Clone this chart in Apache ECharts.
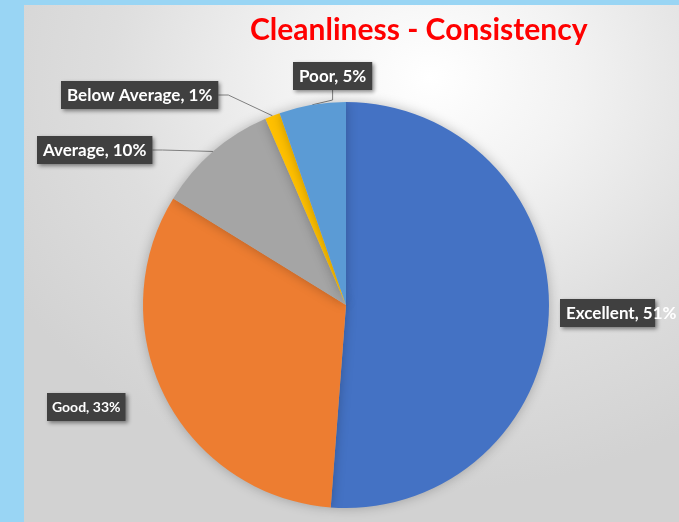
<!DOCTYPE html>
<html>
<head>
<meta charset="utf-8">
<script src="https://cdn.jsdelivr.net/npm/echarts@6/dist/echarts.min.js"></script>
<style>
  html, body { margin: 0; padding: 0; background: #99d5f4; width: 679px; height: 522px; overflow: hidden; }
  #main {
    position: absolute; left: 24px; top: 5px; width: 655px; height: 517px;
    background: radial-gradient(ellipse 75% 80% at 62% 14%, #ffffff 0%, #f2f2f2 30%, #dedede 65%, #d2d2d2 100%);
  }
</style>
</head>
<body>
<div id="main"></div>
<script>
(function() {
  'use strict';

  var categories = ['Excellent', 'Good', 'Average', 'Below Average', 'Poor'];
  var values = [51.2, 32.6, 9.7, 1.2, 5.3];
  var colors = ['#4472c4', '#ed7d31', '#a5a5a5', '#ffc000', '#5b9bd5'];

  // label box top-left corners (chart px)
  var labelPos = [[536, 294], [23, 388], [13, 131], [37, 76], [269, 57]];
  var showLine = [false, false, true, true, true];

  var data = categories.map(function(name, i) {
    var d = {
      name: name,
      value: values[i],
      itemStyle: { color: colors[i] },
      labelLine: { show: showLine[i] }
    };
    if (name === 'Good') {
      // this one is squeezed in the original
      d.label = { fontSize: 14, padding: [6, 5, 5, 5] };
    }
    return d;
  });

  var chart = echarts.init(document.getElementById('main'), null, { renderer: 'canvas' });

  var option = {
    backgroundColor: 'transparent',
    title: {
      text: 'Cleanliness - Consistency',
      left: 221,
      top: 5,
      textStyle: {
        color: '#ff0000',
        fontFamily: 'Lato',
        fontWeight: 'bold',
        fontSize: 30
      }
    },
    series: [{
      type: 'pie',
      center: [322, 300],
      radius: 203,
      startAngle: 90,
      clockwise: true,
      animation: false,
      data: data,
      itemStyle: {
        shadowBlur: 12,
        shadowColor: 'rgba(0,0,0,0.25)'
      },
      label: {
        show: true,
        position: 'outside',
        overflow: 'none',
        formatter: function(p) {
          return p.name + ', ' + Math.round(p.percent) + '%';
        },
        color: '#ffffff',
        fontFamily: 'Lato',
        fontWeight: 'bold',
        fontSize: 17,
        lineHeight: 17,
        backgroundColor: '#404040',
        padding: [6, 6, 5, 6],
        shadowBlur: 4,
        shadowOffsetX: 2,
        shadowOffsetY: 2,
        shadowColor: 'rgba(0,0,0,0.45)'
      },
      labelLine: {
        length: 10,
        length2: 10,
        lineStyle: { color: '#7f7f7f', width: 1 }
      },
      labelLayout: function(p) {
        var pos = labelPos[p.dataIndex];
        return { x: pos[0], y: pos[1], align: 'left', verticalAlign: 'top' };
      }
    }]
  };

  chart.setOption(option);
}());
</script>
</body>
</html>
